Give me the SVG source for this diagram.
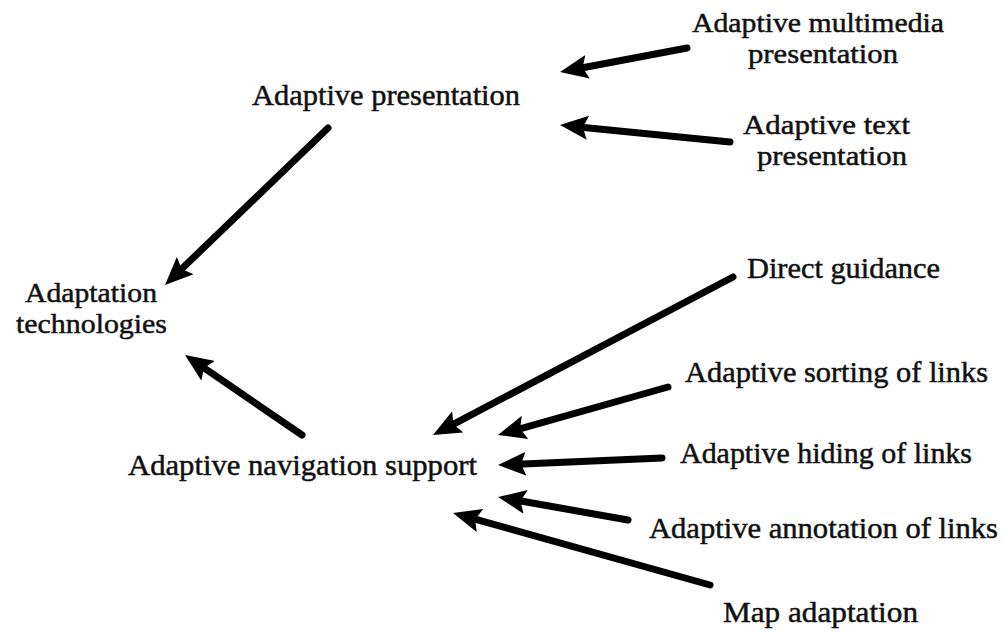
<svg xmlns="http://www.w3.org/2000/svg" width="1004" height="632" viewBox="0 0 1004 632">
  <style>
    text { font-family: "Liberation Serif", "DejaVu Serif", serif; font-size: 30px; fill: #111; stroke: #111; stroke-width: 0.5; }
    text.two { font-size: 28px; }
    .conn { stroke: #000; stroke-width: 7; stroke-linecap: round; fill: none; marker-end: url(#head); }
  </style>
  <defs>
    <marker id="head" viewBox="0 0 28 24" markerWidth="28" markerHeight="24" markerUnits="userSpaceOnUse" refX="9" refY="12" orient="auto">
      <path d="M0,0 L28,12 L0,24 L5,12 z" fill="#000"/>
    </marker>
  </defs>
  <rect width="1004" height="632" fill="#fff"/>

  <g id="connectors">
    <line class="conn" x1="687" y1="48" x2="578.7" y2="68.5"/>
    <line class="conn" x1="730" y1="142" x2="578.9" y2="126.9"/>
    <line class="conn" x1="328" y1="128" x2="178.7" y2="271.8"/>
    <line class="conn" x1="302" y1="435" x2="200.7" y2="365.7"/>
    <line class="conn" x1="733" y1="277" x2="449.8" y2="426.1"/>
    <line class="conn" x1="668" y1="387" x2="516.3" y2="429.8"/>
    <line class="conn" x1="662" y1="458" x2="517" y2="464.2"/>
    <line class="conn" x1="628" y1="520" x2="516.7" y2="500.3"/>
    <line class="conn" x1="710" y1="585" x2="471.3" y2="518.1"/>
  </g>

  <g id="adaptive-presentation"><text x="252" y="105" textLength="268" lengthAdjust="spacingAndGlyphs">Adaptive presentation</text></g>
  <g id="adaptive-multimedia">
    <text class="two" x="692" y="32" textLength="252" lengthAdjust="spacingAndGlyphs">Adaptive multimedia</text>
    <text class="two" x="748" y="63" textLength="150" lengthAdjust="spacingAndGlyphs">presentation</text>
  </g>
  <g id="adaptive-text">
    <text class="two" x="743" y="134" textLength="167" lengthAdjust="spacingAndGlyphs">Adaptive text</text>
    <text class="two" x="757" y="165" textLength="150" lengthAdjust="spacingAndGlyphs">presentation</text>
  </g>
  <g id="adaptation-technologies">
    <text class="two" x="25" y="302" textLength="132" lengthAdjust="spacingAndGlyphs">Adaptation</text>
    <text class="two" x="16" y="333" textLength="151" lengthAdjust="spacingAndGlyphs">technologies</text>
  </g>
  <g id="direct-guidance"><text x="747" y="278" textLength="193" lengthAdjust="spacingAndGlyphs">Direct guidance</text></g>
  <g id="adaptive-sorting"><text x="685" y="382" textLength="303" lengthAdjust="spacingAndGlyphs">Adaptive sorting of links</text></g>
  <g id="adaptive-hiding"><text x="680" y="463" textLength="292" lengthAdjust="spacingAndGlyphs">Adaptive hiding of links</text></g>
  <g id="adaptive-navigation"><text x="128" y="475" textLength="349" lengthAdjust="spacingAndGlyphs">Adaptive navigation support</text></g>
  <g id="adaptive-annotation"><text x="649" y="538" textLength="349" lengthAdjust="spacingAndGlyphs">Adaptive annotation of links</text></g>
  <g id="map-adaptation"><text x="723" y="622" textLength="195" lengthAdjust="spacingAndGlyphs">Map adaptation</text></g>
</svg>
